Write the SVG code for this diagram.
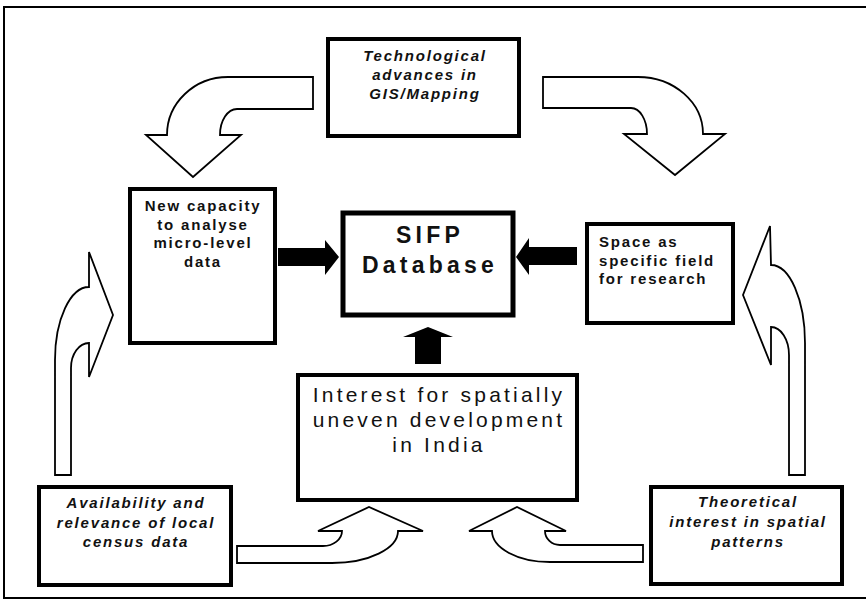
<svg xmlns="http://www.w3.org/2000/svg" width="866" height="602" viewBox="0 0 866 602">
<style>
.box{fill:#fff;stroke:#000;stroke-width:4}
.harrow{fill:#fff;stroke:#000;stroke-width:1.8;stroke-linejoin:miter}
.solid{fill:#000;stroke:none}
.it{font-family:"Liberation Sans",Arial,sans-serif;font-style:italic;font-weight:bold;font-size:15px;letter-spacing:1.8px;text-anchor:middle;fill:#111}
.bd{font-family:"Liberation Sans",Arial,sans-serif;font-weight:bold;font-size:15px;letter-spacing:1.8px;fill:#111}
.big{font-family:"Liberation Sans",Arial,sans-serif;font-size:21px;letter-spacing:3.2px;text-anchor:middle;fill:#111}
.db{font-family:"Liberation Sans",Arial,sans-serif;font-weight:bold;font-size:23px;letter-spacing:4.2px;text-anchor:middle;fill:#111}
</style>
<rect width="866" height="602" fill="#fff"/>
<g id="frame" fill="none" stroke="#000" stroke-width="2">
<polyline points="866,7 4,7 4,598 866,598"/>
</g>

<g id="connectors">
<path class="harrow" d="M313,77 L228,77 A61,58 0 0 0 167,135 L146,135 L193,177 L241,135 L220,135 A17,26 0 0 1 237,109 L313,109 Z"/>
<path class="harrow" d="M543,77 L638,77 A65,57 0 0 1 703,134 L725,134 L675,175 L624,134 L647,134 A16,26 0 0 0 631,108 L543,108 Z"/>
<path class="harrow" d="M55,475 L55,360 A34,73 0 0 1 89,287 L89,252 L113,315 L89,377 L89,343 A18,25 0 0 0 71,368 L71,475 Z"/>
<path class="harrow" d="M789,475 L789,355 A18,28 0 0 0 771,327 L771,365 L743,295 L770,226 L771,265 A34,78 0 0 1 805,343 L805,475 Z"/>
<path class="harrow" d="M237,546 L323,546 A19,15 0 0 0 342,531 L318,531 L369,507 L423,531 L398,531 A66,32 0 0 1 332,563 L237,563 Z"/>
<path class="harrow" d="M643,545 L560,545 A15,14 0 0 1 545,531 L566,531 L517,507 L469,531 L492,531 A58,31 0 0 0 550,562 L643,562 Z"/>
<path class="solid" d="M278,248 L325,248 L325,240 L339,257 L325,275 L325,266 L278,266 Z"/>
<path class="solid" d="M577,247 L529,247 L529,238 L516,257 L529,275 L529,265 L577,265 Z"/>
<path class="solid" d="M415,364 L415,337 L403,337 L428,327 L453,337 L441,337 L441,364 Z"/>
</g>

<g id="node-tech">
<rect class="box" x="328" y="39" width="191" height="97"/>
<text class="it" x="425" y="61">Technological</text>
<text class="it" x="425" y="80">advances in</text>
<text class="it" x="425" y="99">GIS/Mapping</text>
</g>

<g id="node-capacity">
<rect class="box" x="130" y="189" width="145" height="154"/>
<text class="bd" text-anchor="middle" x="203" y="211">New capacity</text>
<text class="bd" text-anchor="middle" x="203" y="230">to analyse</text>
<text class="bd" text-anchor="middle" x="203" y="248">micro-level</text>
<text class="bd" text-anchor="middle" x="203" y="267">data</text>
</g>

<g id="node-sifp">
<rect class="box" x="343" y="213" width="170" height="102" style="stroke-width:5"/>
<text class="db" x="430" y="243">SIFP</text>
<text class="db" x="430" y="273">Database</text>
</g>

<g id="node-space">
<rect class="box" x="587" y="224" width="146" height="99"/>
<text class="bd" x="599" y="247">Space as</text>
<text class="bd" x="599" y="266">specific field</text>
<text class="bd" x="599" y="284">for research</text>
</g>

<g id="node-interest">
<rect class="box" x="298" y="375" width="279" height="125"/>
<text class="big" x="439" y="402">Interest for spatially</text>
<text class="big" x="439" y="427">uneven development</text>
<text class="big" x="439" y="452">in India</text>
</g>

<g id="node-census">
<rect class="box" x="39" y="487" width="192" height="98"/>
<text class="it" x="136" y="508">Availability and</text>
<text class="it" x="136" y="528">relevance of local</text>
<text class="it" x="136" y="547">census data</text>
</g>

<g id="node-theory">
<rect class="box" x="651" y="487" width="191" height="97"/>
<text class="it" x="748" y="507">Theoretical</text>
<text class="it" x="748" y="527">interest in spatial</text>
<text class="it" x="748" y="547">patterns</text>
</g>
</svg>
